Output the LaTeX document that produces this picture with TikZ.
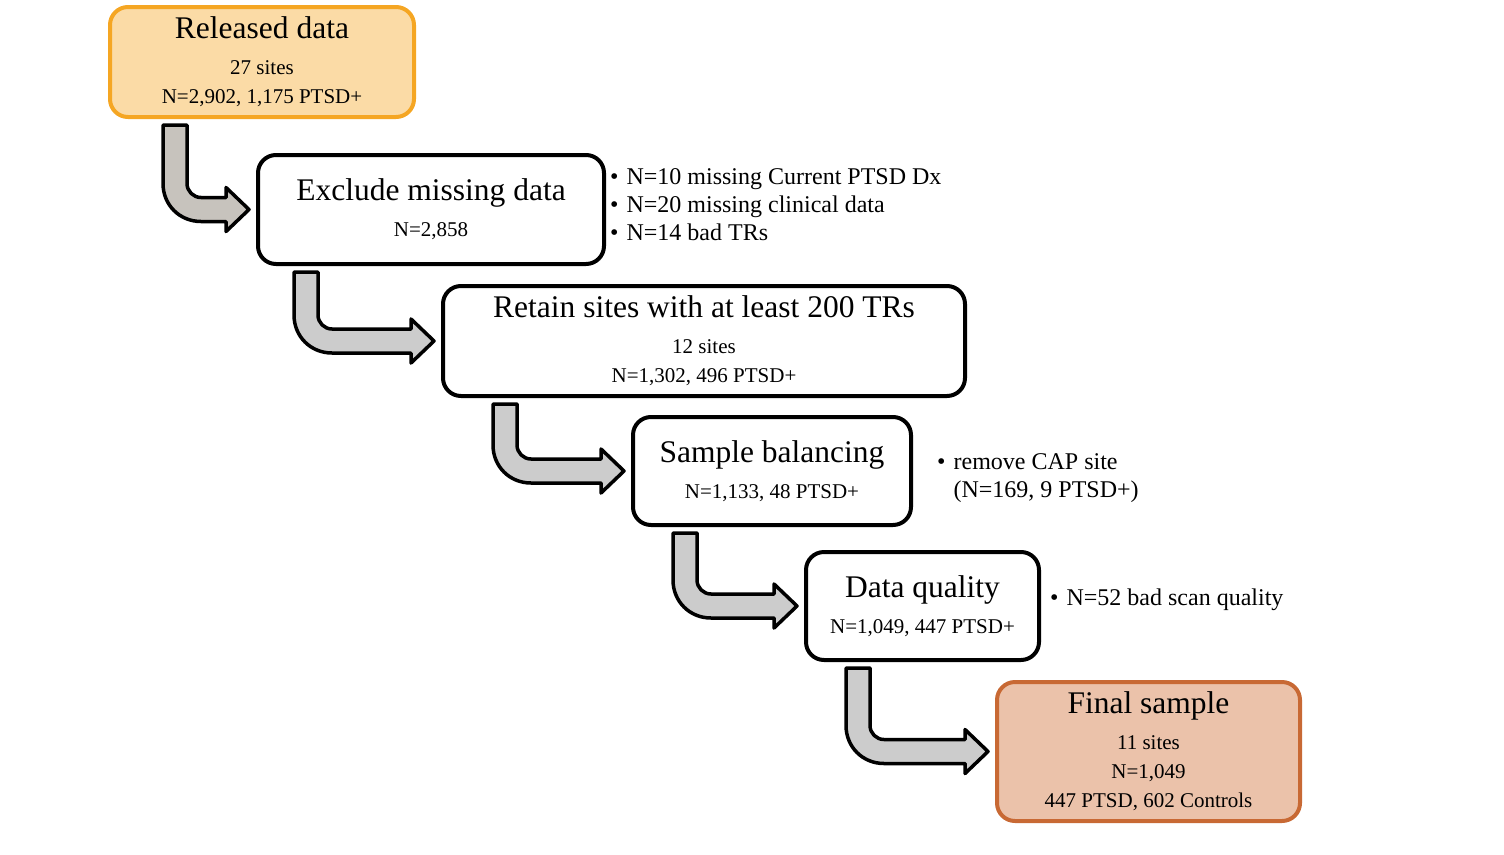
\documentclass[tikz,border=0pt]{standalone}
\usepackage{fontspec}
\setmainfont{Liberation Serif}
\usetikzlibrary{calc}

\definecolor{relline}{RGB}{245,166,35}
\definecolor{relfill}{RGB}{251,219,166}
\definecolor{finline}{RGB}{200,105,52}
\definecolor{finfill}{RGB}{235,194,170}
\definecolor{arrowgray}{RGB}{204,204,204}
\definecolor{arrowwarm}{RGB}{199,195,189}

% title line of a step box
\newcommand{\steptitle}[1]{{\fontsize{31.5}{31.5}\selectfont #1}\\[7pt]}

% bent block arrow: down from the source, then right into the target
\newcommand{\bentarrow}[4][arrowgray]{%
  \draw[flowarrow, fill=#1] let \p1=($(#2.south west)+(#4,0)$), \p2=(#3.west) in
    (\x1-12pt,\y1-6pt) -- (\x1+12pt,\y1-6pt)
    -- (\x1+12pt,\y2+26pt) .. controls (\x1+12pt,\y2+18.3pt) and (\x1+18.3pt,\y2+12pt) .. (\x1+26pt,\y2+12pt)
    -- (\x2-30pt,\y2+12pt) -- (\x2-30pt,\y2+22pt) -- (\x2-7pt,\y2)
    -- (\x2-30pt,\y2-22pt) -- (\x2-30pt,\y2-12pt)
    -- (\x1+26pt,\y2-12pt) .. controls (\x1+4.6pt,\y2-12pt) and (\x1-12pt,\y2+4.6pt) .. (\x1-12pt,\y2+26pt)
    -- cycle;
}

\begin{document}
\begin{tikzpicture}[
    x=1pt, y=-1pt,
    every node/.style={font=\fontsize{21}{29}\selectfont},
    % Box Styles
    stepbox/.style={
        rectangle,
        rounded corners=18pt,
        draw=black,
        line width=4pt,
        fill=white,
        align=center,
        inner sep=0pt
    },
    startbox/.style={stepbox, draw=relline, fill=relfill},
    endbox/.style={stepbox, draw=finline, fill=finfill},
    notes/.style={font=\fontsize{24}{28}\selectfont, anchor=west, inner sep=0pt},
    % Connector Style
    flowarrow/.style={draw=black, line width=3.5pt, line join=round}
]
\useasboundingbox (0,0) rectangle (1504,854);

% --- Steps ---
\node[startbox, minimum width=304pt, minimum height=110pt] (released) at (262,62)
    {\steptitle{Released data}27 sites\\N=2,902, 1,175 PTSD+};
\node[stepbox, minimum width=346pt, minimum height=109pt] (missing) at (431,209.5)
    {\steptitle{Exclude missing data}N=2,858};
\node[stepbox, minimum width=522pt, minimum height=110pt] (retain) at (704,341)
    {\steptitle{Retain sites with at least 200 TRs}12 sites\\N=1,302, 496 PTSD+};
\node[stepbox, minimum width=278pt, minimum height=108pt] (balance) at (772,471)
    {\steptitle{Sample balancing}N=1,133, 48 PTSD+};
\node[stepbox, minimum width=233pt, minimum height=108pt] (quality) at (922.5,606)
    {\steptitle{Data quality}N=1,049, 447 PTSD+};
\node[endbox, minimum width=303pt, minimum height=139pt] (final) at (1148.5,751.5)
    {\steptitle{Final sample}11 sites\\N=1,049\\447 PTSD, 602 Controls};

% --- Notes ---
\node[notes] (missnote) at (610,207) {\begin{tabular}{@{}l@{\hspace{8pt}}l@{}}
    \textbullet & N=10 missing Current PTSD Dx\\
    \textbullet & N=20 missing clinical data\\
    \textbullet & N=14 bad TRs\end{tabular}};
\node[notes] (balnote) at (937,478) {\begin{tabular}{@{}l@{\hspace{8pt}}l@{}}
    \textbullet & remove CAP site\\
                & (N=169, 9 PTSD+)\end{tabular}};
\node[notes] (qualnote) at (1050,600) {\begin{tabular}{@{}l@{\hspace{8pt}}l@{}}
    \textbullet & N=52 bad scan quality\end{tabular}};

% --- Arrows ---
\bentarrow[arrowwarm]{released}{missing}{67}
\bentarrow{missing}{retain}{50}
\bentarrow{retain}{balance}{64}
\bentarrow{balance}{quality}{54}
\bentarrow{quality}{final}{54}

\end{tikzpicture}
\end{document}
